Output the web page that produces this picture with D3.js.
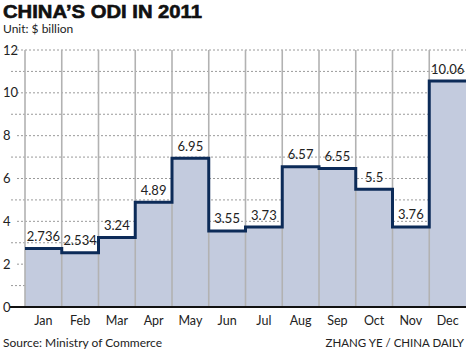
<!DOCTYPE html>
<html>
<head>
<meta charset="utf-8">
<script src="https://cdn.jsdelivr.net/npm/d3@7"></script>
<style>
  body { margin: 0; background: #fff; }
  text { font-family: Lato, "Open Sans", sans-serif; fill: #222; }
</style>
</head>
<body>
<div id="chart"></div>
<script>
var months = ["Jan","Feb","Mar","Apr","May","Jun","Jul","Aug","Sep","Oct","Nov","Dec"];
// heights as drawn in the picture (Dec column is drawn higher than its 10.06 label)
var values = [2.736, 2.534, 3.24, 4.89, 6.95, 3.55, 3.73, 6.55, 6.47, 5.5, 3.74, 10.55];
var labels = ["2.736","2.534","3.24","4.89","6.95","3.55","3.73","6.57","6.55","5.5","3.76","10.06"];
var yTicks = [0, 2, 4, 6, 8, 10, 12];

var w = 470, h = 352;
var plotLeft = 25, plotRight = 466, plotTop = 50, plotBottom = 307;

var svg = d3.select("#chart").append("svg")
  .attr("width", w)
  .attr("height", h);

var x = d3.scaleBand().domain(months).range([plotLeft, plotRight]).padding(0);
var y = d3.scaleLinear().domain([0, 12]).range([plotBottom, plotTop]);

// title
svg.append("text")
  .attr("x", 3).attr("y", 18)
  .attr("textLength", 199).attr("lengthAdjust", "spacingAndGlyphs")
  .style("font-family", "'Liberation Sans', Arial, sans-serif")
  .style("font-weight", "900").style("font-size", "18.5px")
  .style("fill", "#111").style("stroke", "#111").style("stroke-width", "0.6px")
  .text("CHINA\u2019S ODI IN 2011");

svg.append("text")
  .attr("x", 3).attr("y", 33)
  .style("font-size", "12px")
  .text("Unit: $ billion");

// dotted gridlines, every unit
svg.append("g").selectAll("line")
  .data(d3.range(1, 13))
  .enter().append("line")
  .attr("x1", function(d) { return d % 2 == 0 ? 17 : 11; })
  .attr("x2", plotRight)
  .attr("y1", function(d) { return y(d); })
  .attr("y2", function(d) { return y(d); })
  .attr("stroke", "#9a9a9a")
  .attr("stroke-width", 1)
  .attr("stroke-dasharray", "2,2");

// fill area
var stepPts = [];
months.forEach(function(m, i) {
  stepPts.push([x(m), y(values[i])]);
  stepPts.push([x(m) + x.bandwidth(), y(values[i])]);
});

svg.append("path")
  .attr("d", d3.area().x(function(d) { return d[0]; }).y0(plotBottom).y1(function(d) { return d[1]; })(stepPts))
  .attr("fill", "#c3cbde");

// vertical column lines
svg.append("g").selectAll("line")
  .data(months)
  .enter().append("line")
  .attr("x1", function(d) { return x(d); })
  .attr("x2", function(d) { return x(d); })
  .attr("y1", plotTop)
  .attr("y2", plotBottom)
  .attr("stroke", "#b2b2b2")
  .attr("stroke-width", 1.6);

// step line
svg.append("path")
  .attr("d", d3.line().x(function(d) { return d[0]; }).y(function(d) { return d[1]; })(stepPts))
  .attr("fill", "none")
  .attr("stroke", "#0c2b58")
  .attr("stroke-width", 3);

// zero axis
svg.append("line")
  .attr("x1", 10).attr("x2", plotRight)
  .attr("y1", plotBottom).attr("y2", plotBottom)
  .attr("stroke", "#111").attr("stroke-width", 2);

// y labels
svg.append("g").selectAll("text")
  .data(yTicks)
  .enter().append("text")
  .attr("x", 3)
  .attr("y", function(d) { return y(d) + 4.5; })
  .style("font-size", "13px")
  .text(function(d) { return d; });

// value labels
svg.append("g").selectAll("text")
  .data(months)
  .enter().append("text")
  .attr("x", function(d) { return x(d) + x.bandwidth() / 2; })
  .attr("y", function(d, i) { return y(values[i]) - 7.5; })
  .attr("text-anchor", "middle")
  .style("font-size", "13px")
  .text(function(d, i) { return labels[i]; });

// month labels
svg.append("g").selectAll("text")
  .data(months)
  .enter().append("text")
  .attr("x", function(d) { return x(d) + x.bandwidth() / 2; })
  .attr("y", 325)
  .attr("text-anchor", "middle")
  .style("font-size", "12.5px")
  .text(function(d) { return d; });

svg.append("text")
  .attr("x", 3).attr("y", 347)
  .style("font-size", "12px")
  .text("Source: Ministry of Commerce");

svg.append("text")
  .attr("x", 464).attr("y", 347)
  .attr("text-anchor", "end")
  .style("font-size", "11.5px")
  .text("ZHANG YE / CHINA DAILY");
</script>
</body>
</html>
